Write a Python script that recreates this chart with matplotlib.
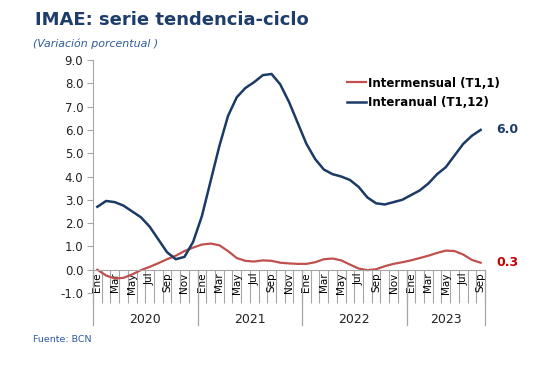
import matplotlib
matplotlib.use("Agg")
import matplotlib.pyplot as plt
import matplotlib.transforms as mtransforms
import numpy as np

# monthly data, Ene 2020 - Sep 2023
meses = ["Ene", "Feb", "Mar", "Abr", "May", "Jun", "Jul", "Ago", "Sep", "Oct", "Nov", "Dic"]
anios = ["2020", "2021", "2022", "2023"]
n_meses_anio = [12, 12, 12, 9]

interanual = [2.7, 2.95, 2.9, 2.75, 2.5, 2.25, 1.85, 1.3, 0.75, 0.45, 0.55, 1.2,
              2.3, 3.8, 5.3, 6.6, 7.4, 7.8, 8.05, 8.35, 8.4, 7.95, 7.2, 6.3,
              5.4, 4.75, 4.3, 4.1, 4.0, 3.85, 3.55, 3.1, 2.85, 2.8, 2.9, 3.0,
              3.2, 3.4, 3.7, 4.1, 4.4, 4.9, 5.4, 5.75, 6.0]
intermensual = [0.0, -0.25, -0.38, -0.35, -0.2, -0.02, 0.12, 0.28, 0.45, 0.6, 0.8, 0.95,
                1.08, 1.12, 1.05, 0.8, 0.5, 0.38, 0.35, 0.4, 0.38, 0.3, 0.27, 0.25,
                0.25, 0.32, 0.45, 0.48, 0.4, 0.22, 0.05, -0.02, 0.02, 0.15, 0.25, 0.32,
                0.4, 0.5, 0.6, 0.72, 0.82, 0.8, 0.65, 0.42, 0.3]

azul = "#1b3a66"
rojo = "#c0504d"
gris = "#a6a6a6"

etiquetas = []
for n in n_meses_anio:
    etiquetas += meses[:n]
x = np.arange(len(etiquetas))

fig = plt.figure(figsize=(5.34, 3.75), dpi=100)
ax = fig.add_axes([93/534, 82/375, 392/534, 233/375])

ax.plot(x, intermensual, color=rojo, lw=1.6, label="Intermensual (T1,1)",
        solid_joinstyle="round")
ax.plot(x, interanual, color=azul, lw=1.8, label="Interanual (T1,12)",
        solid_joinstyle="round")

ax.set_xlim(-0.5, len(x) - 0.5)
ax.set_ylim(-1, 9)
ax.set_yticks(np.arange(-1, 10, 1))
ax.set_yticklabels(["%.1f" % v for v in np.arange(-1, 10, 1)], fontsize=8.5, color="#222222")
ax.tick_params(axis="y", length=4, color=gris, pad=3)

ax.spines["top"].set_visible(False)
ax.spines["right"].set_visible(False)
ax.spines["left"].set_color(gris)
ax.spines["bottom"].set_color(gris)
ax.spines["bottom"].set_position(("data", 0))

# month boundaries as major ticks, labels on minor ticks
ax.set_xticks(np.arange(-0.5, len(x), 1))
ax.set_xticklabels([])
ax.tick_params(axis="x", which="major", length=24, color=gris, width=0.8)
pos_lab = x[::2]
ax.set_xticks(pos_lab, minor=True)
ax.set_xticklabels([etiquetas[i] for i in pos_lab], minor=True, rotation=90, fontsize=7.5)
ax.tick_params(axis="x", which="minor", length=0, pad=2)

# year separators and labels
trans = mtransforms.blended_transform_factory(ax.transData, ax.transAxes)
bordes = np.concatenate([[0], np.cumsum(n_meses_anio)]) - 0.5
for b in bordes:
    ax.plot([b, b], [0.1, -0.137], transform=trans, color=gris, lw=0.9, clip_on=False)
for k, a in enumerate(anios):
    ax.text((bordes[k] + bordes[k+1]) / 2, -0.112, a, transform=trans,
            ha="center", va="center", fontsize=9, color="#222222")

# end labels
ax.text(len(x) + 0.8, interanual[-1], "%.1f" % interanual[-1], color=azul,
        fontsize=9, fontweight="bold", va="center", ha="left")
ax.text(len(x) + 0.8, intermensual[-1], "%.1f" % intermensual[-1], color="#c00000",
        fontsize=9, fontweight="bold", va="center", ha="left")

leg = fig.legend(loc="upper left", bbox_to_anchor=(336/534, 1 - 66/375), frameon=False,
                 handlelength=1.6, handletextpad=0.2, labelspacing=0.55,
                 prop={"weight": "bold", "size": 8.5})

fig.text(35/534, 1 - 20/375, "IMAE: serie tendencia-ciclo", fontsize=13,
         fontweight="bold", color="#1f3d6b", va="center", ha="left")
fig.text(33/534, 1 - 44/375, "(Variación porcentual )", fontsize=7.9,
         style="italic", color="#2e5a9a", va="center", ha="left")
fig.text(33/534, 1 - 339/375, "Fuente: BCN", fontsize=6.8,
         color="#2e5a9a", va="center", ha="left")

fig.savefig("out.png", dpi=100)
